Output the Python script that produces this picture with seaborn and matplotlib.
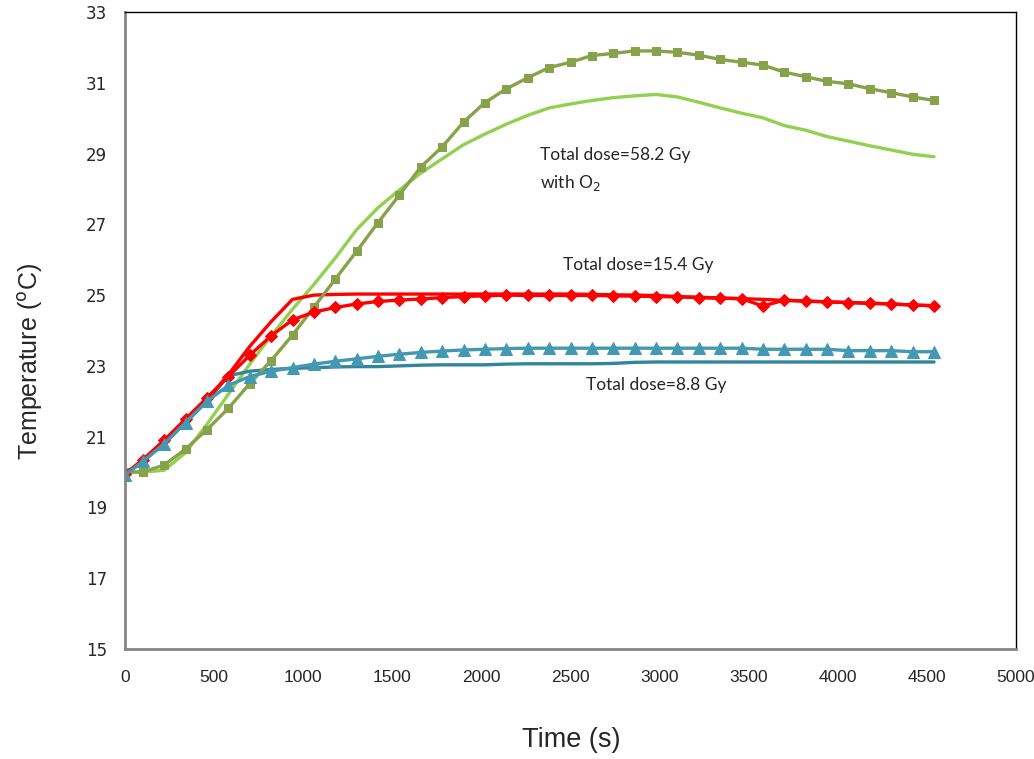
import matplotlib
matplotlib.use("Agg")
import matplotlib.pyplot as plt
import seaborn as sns
import numpy as np

time_s = [0, 100, 220, 340, 460, 580, 700, 820, 940, 1060,
          1180, 1300, 1420, 1540, 1660, 1780, 1900, 2020, 2140, 2260,
          2380, 2500, 2620, 2740, 2860, 2980, 3100, 3220, 3340, 3460,
          3580, 3700, 3820, 3940, 4060, 4180, 4300, 4420, 4540]

dose58_meas = [20.0, 20.0, 20.2, 20.65, 21.2, 21.8, 22.5, 23.15, 23.87, 24.66,
               25.45, 26.24, 27.05, 27.83, 28.62, 29.19, 29.89, 30.44, 30.83, 31.14,
               31.43, 31.58, 31.77, 31.83, 31.9, 31.9, 31.86, 31.78, 31.66, 31.58,
               31.5, 31.3, 31.17, 31.04, 30.97, 30.83, 30.72, 30.6, 30.5]
dose58_line = [20.0, 20.0, 20.05, 20.55, 21.35, 22.2, 23.05, 23.85, 24.6, 25.3,
               26.05, 26.85, 27.47, 27.97, 28.45, 28.85, 29.25, 29.55, 29.83, 30.08,
               30.29, 30.4, 30.5, 30.58, 30.63, 30.67, 30.6, 30.45, 30.29, 30.14,
               30.01, 29.79, 29.66, 29.48, 29.35, 29.22, 29.1, 28.98, 28.91]

dose15_meas = [19.95, 20.35, 20.9, 21.5, 22.1, 22.7, 23.3, 23.85, 24.3, 24.52,
               24.65, 24.75, 24.82, 24.86, 24.89, 24.93, 24.96, 24.98, 25.0, 24.99,
               24.99, 24.99, 24.99, 24.98, 24.97, 24.96, 24.95, 24.93, 24.91, 24.9,
               24.69, 24.86, 24.83, 24.81, 24.79, 24.77, 24.75, 24.72, 24.7]
dose15_line = [19.95, 20.3, 20.85, 21.45, 22.05, 22.75, 23.55, 24.25, 24.88, 25.0,
               25.02, 25.03, 25.03, 25.03, 25.03, 25.03, 25.03, 25.03, 25.03, 25.03,
               25.03, 25.03, 25.02, 25.01, 25.0, 24.99, 24.96, 24.94, 24.92, 24.9,
               24.88, 24.85, 24.83, 24.81, 24.79, 24.77, 24.75, 24.72, 24.7]

dose8_meas = [19.92, 20.3, 20.8, 21.4, 22.0, 22.45, 22.7, 22.85, 22.95, 23.05,
              23.13, 23.2, 23.27, 23.33, 23.38, 23.42, 23.45, 23.47, 23.49, 23.5,
              23.5, 23.5, 23.5, 23.5, 23.5, 23.5, 23.5, 23.5, 23.5, 23.5,
              23.47, 23.47, 23.47, 23.47, 23.43, 23.43, 23.43, 23.4, 23.4]
dose8_line = [19.92, 20.3, 20.8, 21.4, 22.0, 22.72, 22.85, 22.9, 22.93, 22.95,
              22.97, 22.98, 22.98, 23.0, 23.02, 23.03, 23.03, 23.03, 23.05, 23.06,
              23.06, 23.06, 23.06, 23.07, 23.1, 23.11, 23.11, 23.11, 23.11, 23.11,
              23.11, 23.11, 23.11, 23.11, 23.11, 23.11, 23.11, 23.11, 23.11]

x_ticks = [0, 500, 1000, 1500, 2000, 2500, 3000, 3500, 4000, 4500, 5000]
y_ticks = [15, 17, 19, 21, 23, 25, 27, 29, 31, 33]

sns.set_style("white")
plt.rcParams['font.family'] = ['DejaVu Sans']

fig = plt.figure(figsize=(10.34, 7.59), dpi=100)
ax = fig.add_axes([125/1034, 1 - 649/759, (1016 - 125)/1034, (649 - 12)/759])

lw = 2.4
sns.lineplot(x=time_s, y=dose58_line, ax=ax, color="#92D050", linewidth=lw)
sns.lineplot(x=time_s, y=dose8_line, ax=ax, color="#31859C", linewidth=lw)
sns.lineplot(x=time_s, y=dose15_line, ax=ax, color="#FF0000", linewidth=lw)
sns.lineplot(x=time_s, y=dose58_meas, ax=ax, color="#87A24A", linewidth=lw,
             marker="s", markersize=6, markeredgecolor="#87A24A")
sns.lineplot(x=time_s, y=dose15_meas, ax=ax, color="#FF0000", linewidth=lw,
             marker="D", markersize=6, markeredgecolor="#FF0000")
sns.lineplot(x=time_s, y=dose8_meas, ax=ax, color="#4299B1", linewidth=lw,
             marker="^", markersize=8, markeredgecolor="#4299B1")

ax.set_xlim(0, 5000)
ax.set_ylim(15, 33)
ax.set_xticks(x_ticks)
ax.set_yticks(y_ticks)
ax.tick_params(axis='both', which='major', direction='out', length=5,
               width=1, color="#868686", labelsize=12, pad=8)
ax.tick_params(axis='x', pad=10)
for lab in ax.get_xticklabels():
    lab.set_family(['Liberation Sans Narrow', 'Liberation Sans', 'DejaVu Sans'])
    lab.set_fontsize(12.5)

for side in ['left', 'bottom']:
    ax.spines[side].set_color("#868686")
    ax.spines[side].set_linewidth(2)
for side in ['top', 'right']:
    ax.spines[side].set_color("black")
    ax.spines[side].set_linewidth(1)

ax.set_xlabel("Time (s)", fontsize=19.5, family=['Liberation Sans Narrow', 'Liberation Sans'])
ax.xaxis.set_label_coords((571 - 125) / 891, (649 - 740) / 637)
ax.set_ylabel("Temperature ($^{\\mathrm{o}}$C)", fontsize=18, family=['Liberation Sans'])
ax.yaxis.set_label_coords((30 - 125) / 891, (649 - 362) / 637)
ax.xaxis.label.set_va('center')
ax.yaxis.label.set_va('center')

ann_font = ['Lato', 'DejaVu Sans']
ax.text(2329, 28.96, "Total dose=58.2 Gy", fontsize=12.5, family=ann_font, va='center', ha='left')
ax.text(2329, 28.17, "with O$_2$", fontsize=12.5, family=ann_font, va='center', ha='left')
ax.text(2458, 25.85, "Total dose=15.4 Gy", fontsize=12.5, family=ann_font, va='center', ha='left')
ax.text(2587, 22.46, "Total dose=8.8 Gy", fontsize=12.5, family=ann_font, va='center', ha='left')

fig.savefig("out.png", dpi=100)
